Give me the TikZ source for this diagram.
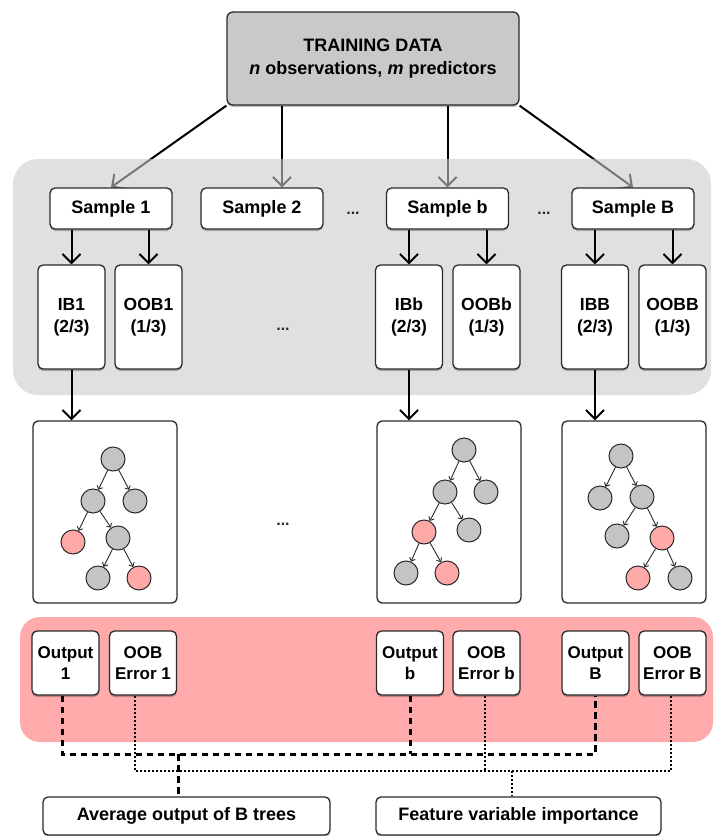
\documentclass[tikz,border=0pt]{standalone}
\usepackage{fontspec}
\setmainfont{Liberation Sans}
\usetikzlibrary{arrows.meta,shadows}
\pgfdeclarelayer{feeds}
\pgfdeclarelayer{panels}
\pgfsetlayers{feeds,panels,main}
\definecolor{ink}{HTML}{2A2A2A}
\definecolor{trainfill}{HTML}{C9C9C9}
\definecolor{panelgray}{HTML}{CBCBCB}
\definecolor{panelpink}{HTML}{FFABAB}
\definecolor{leafgray}{HTML}{C4C4C4}
\definecolor{leafpink}{HTML}{FFA8A8}
\tikzset{
  boxshadow/.style={drop shadow={shadow xshift=0pt,shadow yshift=-2pt,opacity=0.25,fill=black}},
  card/.style={draw=ink,line width=1.3pt,rounded corners=5pt,fill=white,align=center,inner sep=0pt,
    font=\bfseries\fontsize{18}{23}\selectfont,boxshadow},
  sample/.style={card,minimum width=122pt,minimum height=41pt},
  half/.style={card,minimum width=67pt,minimum height=104pt,font=\bfseries\fontsize{17.5}{22}\selectfont},
  outcard/.style={card,minimum width=67pt,minimum height=64pt,font=\bfseries\fontsize{17}{20.5}\selectfont},
  result/.style={card,minimum height=38pt},
  treebox/.style={draw=ink,line width=1.3pt,rounded corners=5pt,fill=white,inner sep=0pt,
    minimum width=144pt,minimum height=182pt},
  leaf/.style={circle,draw=ink,line width=1pt,fill=leafgray,minimum size=24pt,inner sep=0pt},
  hot/.style={leaf,fill=leafpink},
  twig/.style={draw=ink,line width=0.9pt,-{Straight Barb[length=3pt,width=6pt]}},
  feed/.style={draw=black,line width=2pt,-{Straight Barb[length=9pt,width=18pt]}},
  split/.style={draw=black,line width=2pt,-{Straight Barb[length=9pt,width=18pt]}},
  dots/.style={font=\bfseries\fontsize{16}{16}\selectfont,inner sep=0pt,text=ink},
  dashline/.style={draw=black,line width=3pt,dash pattern=on 6.5pt off 4.5pt},
  dotline/.style={draw=black,line width=2pt,dash pattern=on 2pt off 2pt},
  panel/.style={inner sep=0pt,draw=none}
}
\begin{document}
\begin{tikzpicture}[x=1pt,y=-1pt]
\useasboundingbox (0,0) rectangle (714,836);

% training data
\node[card,fill=trainfill,minimum width=292pt,minimum height=93pt,rounded corners=6pt] (train) at (373,58.5)
  {TRAINING DATA\\\textit{n} observations, \textit{m} predictors};

% bootstrap samples
\node[sample] (s1) at (111,208.5) {Sample 1};
\node[sample] (s2) at (262,208.5) {Sample 2};
\node[sample] (sb) at (447.5,208.5) {Sample b};
\node[sample] (sB) at (633,208.5) {Sample B};
\node[dots] (gapa) at (353,213) {...};
\node[dots] (gapb) at (544,213) {...};

% in-bag / out-of-bag parts
\node[half] (ib1) at (71.5,317) {IB1\\(2/3)};
\node[half] (oob1) at (148.5,317) {OOB1\\(1/3)};
\node[half] (ibb) at (409,317) {IBb\\(2/3)};
\node[half] (oobb) at (486.5,317) {OOBb\\(1/3)};
\node[half] (ibB) at (595,317) {IBB\\(2/3)};
\node[half] (oobB) at (672.5,317) {OOBB\\(1/3)};
\node[dots] (gapc) at (283,329) {...};

% panels behind the sample rows
\begin{pgfonlayer}{panels}
  \node[panel,fill=panelgray,fill opacity=0.59,rounded corners=25pt,minimum width=698pt,minimum height=236pt]
    (bagpanel) at (362,277) {};
  \node[panel,fill=panelpink,rounded corners=20pt,minimum width=693pt,minimum height=125pt]
    (outpanel) at (366.5,679.5) {};
\end{pgfonlayer}

% sampling arrows from the training data
\begin{pgfonlayer}{feeds}
  \draw[feed] (train.south west) -- (s1.north);
  \draw[feed] ([xshift=20pt]s2.north |- train.south) -- ([xshift=20pt]s2.north);
  \draw[feed] (sb.north |- train.south) -- (sb.north);
  \draw[feed] (train.south east) -- (sB.north);
\end{pgfonlayer}

% split each sample
\foreach \s/\a/\b in {s1/ib1/oob1, sb/ibb/oobb, sB/ibB/oobB}{
  \draw[split] (\s.south -| \a.north) -- (\a.north);
  \draw[split] (\s.south -| \b.north) -- (\b.north);
}

% trees
\node[treebox] (t1box) at (105,512) {};
\node[treebox] (tbbox) at (449,512) {};
\node[treebox] (tBbox) at (634,512) {};
\node[dots] (gapd) at (283,524) {...};
\draw[split] (ib1.south) -- (ib1.south |- t1box.north);
\draw[split] (ibb.south) -- (ibb.south |- tbbox.north);
\draw[split] (ibB.south) -- (ibB.south |- tBbox.north);

% tree 1
\node[leaf] (a0) at (113,459) {};
\node[leaf] (a1) at (93,501) {};
\node[leaf] (a2) at (135,501) {};
\node[hot]  (a3) at (73,542) {};
\node[leaf] (a4) at (118,538) {};
\node[leaf] (a5) at (98,578) {};
\node[hot]  (a6) at (139,578) {};
\foreach \p/\c in {a0/a1,a0/a2,a1/a3,a1/a4,a4/a5,a4/a6} \draw[twig] (\p) -- (\c);

% tree b
\node[leaf] (b0) at (464,450) {};
\node[leaf] (b1) at (445,492) {};
\node[leaf] (b2) at (486,492) {};
\node[hot]  (b3) at (424,532) {};
\node[leaf] (b4) at (469,530) {};
\node[leaf] (b5) at (406,573) {};
\node[hot]  (b6) at (447,573) {};
\foreach \p/\c in {b0/b1,b0/b2,b1/b3,b1/b4,b3/b5,b3/b6} \draw[twig] (\p) -- (\c);

% tree B
\node[leaf] (c0) at (621,456) {};
\node[leaf] (c1) at (600,498) {};
\node[leaf] (c2) at (642,497) {};
\node[leaf] (c3) at (617,536) {};
\node[hot]  (c4) at (662,538) {};
\node[hot]  (c5) at (638,578) {};
\node[leaf] (c6) at (680,578) {};
\foreach \p/\c in {c0/c1,c0/c2,c2/c3,c2/c4,c4/c5,c4/c6} \draw[twig] (\p) -- (\c);

% outputs and errors
\node[outcard] (out1) at (65.5,663) {Output\\1};
\node[outcard] (err1) at (143,663) {OOB\\Error 1};
\node[outcard] (outb) at (410,663) {Output\\b};
\node[outcard] (errb) at (486.5,663) {OOB\\Error b};
\node[outcard] (outB) at (595.5,663) {Output\\B};
\node[outcard] (errB) at (672.5,663) {OOB\\Error B};

% aggregated results
\node[result,minimum width=287pt] (avg) at (186.5,816) {Average output of B trees};
\node[result,minimum width=285pt] (feat) at (518.5,816) {Feature variable importance};

% collecting lines
\coordinate (dashrow) at (0,754);
\coordinate (dotrow) at (0,771);
\draw[dashline] ([xshift=-3.5pt]out1.south) -- ([xshift=-3.5pt]out1.south |- dashrow) -- (outB.south |- dashrow) -- (outB.south);
\draw[dashline] (outb.south) -- (outb.south |- dashrow);
\draw[dashline] ([xshift=-8.5pt]avg.north |- dashrow) -- ([xshift=-8.5pt]avg.north);
\draw[dotline] ([xshift=-8pt]err1.south) -- ([xshift=-8pt]err1.south |- dotrow) -- ([xshift=-1.5pt]errB.south |- dotrow) -- ([xshift=-1.5pt]errB.south);
\draw[dotline] ([xshift=-1.5pt]errb.south) -- ([xshift=-1.5pt]errb.south |- dotrow);
\draw[dotline] ([xshift=-6.5pt]feat.north |- dotrow) -- ([xshift=-6.5pt]feat.north);
\end{tikzpicture}
\end{document}
